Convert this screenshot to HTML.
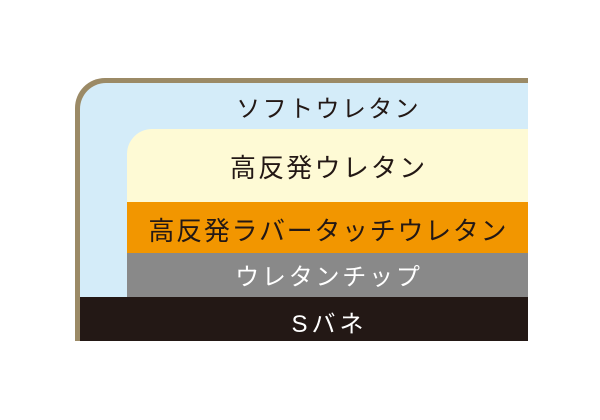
<!DOCTYPE html>
<html><head><meta charset="utf-8"><style>
body{margin:0;width:600px;height:420px;background:#fff;position:relative;overflow:hidden;font-family:"Liberation Sans","Noto Sans CJK JP",sans-serif;}
div{position:absolute;box-sizing:border-box}
.t{left:0;right:0;text-align:center;white-space:nowrap}
</style></head><body>
<div style="left:75px;top:78px;width:453px;height:263px;background:#9b8a66;border-radius:30px 0 0 0"></div>
<div style="left:80px;top:83px;width:448px;height:258px;background:#d4ecf9;border-radius:26px 0 0 0"></div>
<div style="left:127px;top:129px;width:401px;height:74px;background:#fefad5;border-radius:25px 0 0 0"></div>
<div style="left:127px;top:202px;width:401px;height:51px;background:#f29600"></div>
<div style="left:127px;top:253px;width:401px;height:44px;background:#898989"></div>
<div style="left:80px;top:297px;width:448px;height:44px;background:#231815"></div>
<div style="left:127px;width:401px;top:89px;font-size:24px;letter-spacing:2.4px;padding-left:2.4px;color:#231815" class="t">ソフトウレタン</div>
<div style="left:127px;width:401px;top:148px;font-size:26px;letter-spacing:2.2px;padding-left:2.2px;color:#231815" class="t">高反発ウレタン</div>
<div style="left:127px;width:401px;top:211px;font-size:26px;letter-spacing:1.7px;padding-left:1.7px;color:#231815" class="t">高反発ラバータッチウレタン</div>
<div style="left:127px;width:401px;top:257px;font-size:24px;letter-spacing:2.8px;padding-left:2.8px;color:#fff" class="t">ウレタンチップ</div>
<div style="left:127px;width:401px;top:304px;font-size:24px;letter-spacing:4px;padding-left:4px;color:#fff" class="t">Sバネ</div>
</body></html>
